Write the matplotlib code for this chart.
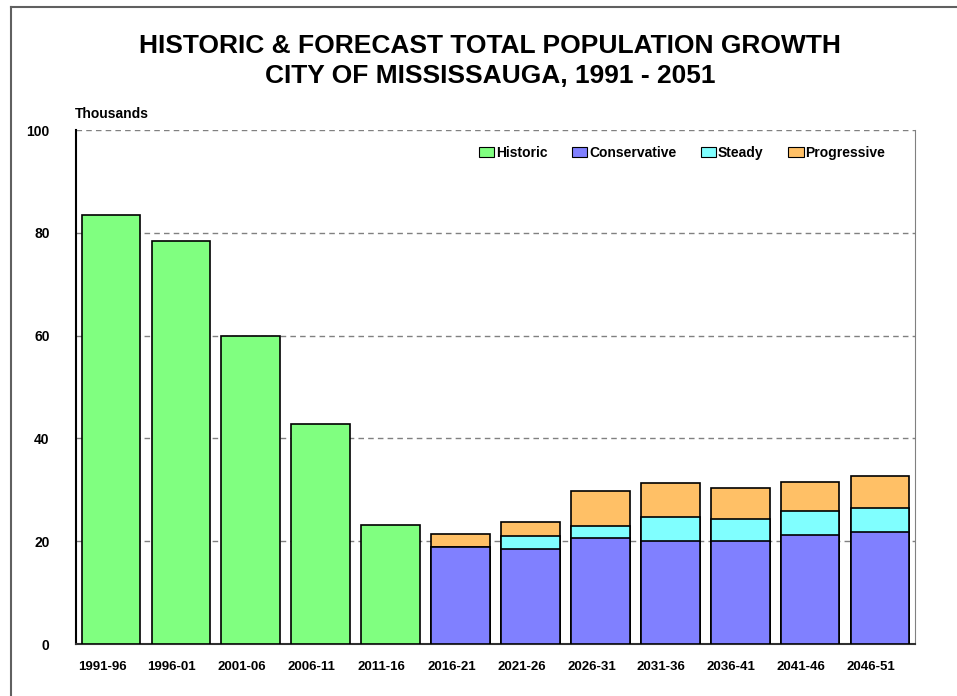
import matplotlib
matplotlib.use('Agg')
import matplotlib.pyplot as plt
import matplotlib.transforms as mtransforms
from matplotlib.patches import Patch
from matplotlib.lines import Line2D

plt.rcParams['font.family'] = ['Liberation Sans', 'DejaVu Sans']
plt.rcParams['font.weight'] = 'bold'

periods = ['1991-96', '1996-01', '2001-06', '2006-11', '2011-16', '2016-21',
           '2021-26', '2026-31', '2031-36', '2036-41', '2041-46', '2046-51']
historic = [83.5, 78.4, 59.9, 42.8, 23.2]
# forecast scenarios, totals in thousands (2016-21 onward)
conservative = [18.8, 18.4, 20.6, 20.0, 20.0, 21.2, 21.8]
steady = [18.8, 21.1, 23.0, 24.8, 24.4, 25.9, 26.5]
progressive = [21.4, 23.7, 29.7, 31.4, 30.4, 31.5, 32.7]
y_ticks = [0, 20, 40, 60, 80, 100]

colors = {'Historic': '#80FF80', 'Conservative': '#8080FF',
          'Steady': '#80FFFF', 'Progressive': '#FFC066'}

W, H = 957, 696
fig = plt.figure(figsize=(W / 100, H / 100), dpi=100)
ax = fig.add_axes([76 / W, (H - 644) / H, (915 - 76) / W, (644 - 130) / H])

bw = 0.84
ax.bar(periods[:5], historic, width=bw, color=colors['Historic'],
       edgecolor='black', linewidth=1.2, zorder=3)
fc = periods[5:]
ax.bar(fc, progressive, width=bw, color=colors['Progressive'],
       edgecolor='black', linewidth=1.2, zorder=3)
ax.bar(fc, steady, width=bw, color=colors['Steady'],
       edgecolor='black', linewidth=1.2, zorder=4)
ax.bar(fc, conservative, width=bw, color=colors['Conservative'],
       edgecolor='black', linewidth=1.2, zorder=5)

ax.set_xlim(-0.5, len(periods) - 0.5)
ax.set_ylim(0, 100)
ax.set_yticks(y_ticks)
ax.yaxis.grid(True, linestyle=(0, (4, 3)), color='#808080', linewidth=1)
ax.set_axisbelow(True)
ax.tick_params(axis='both', length=0)
ax.tick_params(axis='y', pad=19, labelsize=10)
ax.tick_params(axis='x', pad=12, labelsize=9.5)
# category labels sit a little left of the bar centres in the source
shift = mtransforms.ScaledTranslation(-0.09, 0, fig.dpi_scale_trans)
for lbl in ax.get_xticklabels():
    lbl.set_transform(lbl.get_transform() + shift)
for lbl in ax.get_xticklabels() + ax.get_yticklabels():
    lbl.set_fontweight('bold')

ax.spines['top'].set_visible(False)
ax.spines['right'].set_color('#808080')
ax.spines['left'].set_linewidth(1.5)
ax.spines['bottom'].set_linewidth(1.5)
ax.spines['bottom'].set_color('#303030')

fig.text(490 / W, 1 - 46 / H, 'HISTORIC & FORECAST TOTAL POPULATION GROWTH',
         ha='center', va='center', fontsize=19, fontweight='bold')
fig.text(490 / W, 1 - 76 / H, 'CITY OF MISSISSAUGA, 1991 - 2051',
         ha='center', va='center', fontsize=19, fontweight='bold')
fig.text(75 / W, 1 - 114 / H, 'Thousands', ha='left', va='center',
         fontsize=10, fontweight='bold')

handles = [Patch(facecolor=colors[k], edgecolor='black', linewidth=0.8, label=k)
           for k in ['Historic', 'Conservative', 'Steady', 'Progressive']]
ax.legend(handles=handles, loc='center', bbox_to_anchor=(682 / W, 1 - 153 / H),
          bbox_transform=fig.transFigure, ncol=4, frameon=False,
          handlelength=1.1, handleheight=0.8, handletextpad=0.1,
          columnspacing=1.8, prop={'weight': 'bold', 'size': 10})

# outer frame (top and left edges only, as in the source)
fig.add_artist(Line2D([11 / W, 1], [1 - 7 / H, 1 - 7 / H], color='#606060',
                      linewidth=1.5, transform=fig.transFigure))
fig.add_artist(Line2D([11 / W, 11 / W], [0, 1 - 7 / H], color='#606060',
                      linewidth=1.5, transform=fig.transFigure))

fig.savefig('out.png', dpi=100)
